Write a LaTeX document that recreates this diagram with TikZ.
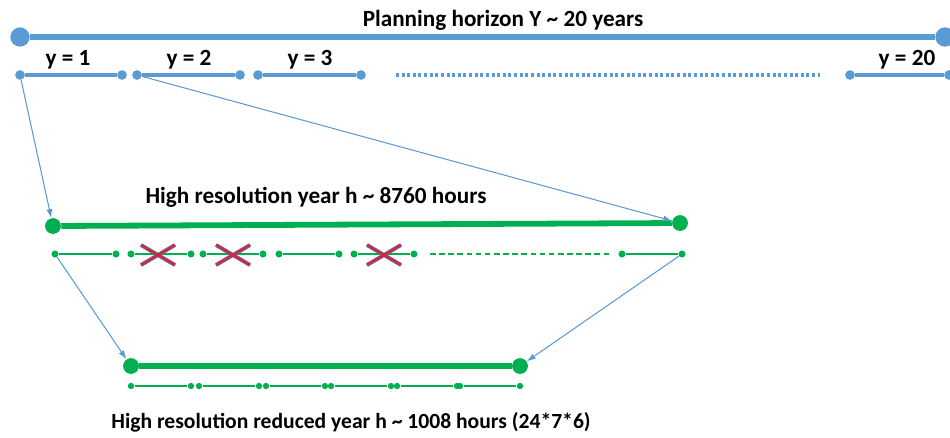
\documentclass[tikz,border=0pt]{standalone}
\usepackage{fontspec}
\setmainfont{Carlito}
\usetikzlibrary{arrows.meta}

\definecolor{yearblue}{RGB}{91,155,213}
\definecolor{hourgreen}{RGB}{0,176,80}
\definecolor{crossred}{RGB}{214,36,60}
\definecolor{crossshade}{RGB}{110,100,150}

\begin{document}
\begin{tikzpicture}[x=0.02cm, y=-0.02cm, >={Latex[length=5pt,width=3.5pt]}]

% Styles
\tikzstyle{bigdot}   = [circle, fill=yearblue, inner sep=0pt, minimum size=11pt]
\tikzstyle{yeardot}  = [circle, fill=yearblue, inner sep=0pt, minimum size=5.5pt]
\tikzstyle{hbigdot}  = [circle, fill=hourgreen, inner sep=0pt, minimum size=9pt]
\tikzstyle{hdot}     = [circle, fill=hourgreen, inner sep=0pt, minimum size=4pt]
\tikzstyle{rdot}     = [circle, fill=hourgreen, inner sep=0pt, minimum size=3.6pt]
\tikzstyle{label}    = [font=\fontsize{13.2}{16}\selectfont\bfseries]
\tikzstyle{link}     = [->, draw=yearblue, line width=0.6pt]
\tikzstyle{yearline} = [draw=yearblue, line width=1.9pt]
\tikzstyle{hourline} = [draw=hourgreen, line width=1.1pt]

\useasboundingbox (0,0) rectangle (950,437);

% Planning horizon
\node [bigdot] (Y0) at (20,37) {};
\node [bigdot] (Y1) at (945,37) {};
\draw [draw=yearblue, line width=3.6pt] (Y0) -- (Y1);
\node [label] (horizon) at (503,20) {Planning horizon Y \textasciitilde{} 20 years};

% Years
\node [yeardot] (y1a) at (20,75) {};
\node [yeardot] (y1b) at (122,75) {};
\node [yeardot] (y2a) at (137,75) {};
\node [yeardot] (y2b) at (240,75) {};
\node [yeardot] (y3a) at (258,75) {};
\node [yeardot] (y3b) at (361,75) {};
\node [yeardot] (y20a) at (850,75) {};
\node [yeardot] (y20b) at (949,75) {};
\coordinate (dotsa) at (396,75);
\coordinate (dotsb) at (820,75);

\draw [yearline] (y1a) -- (y1b);
\draw [yearline] (y2a) -- (y2b);
\draw [yearline] (y3a) -- (y3b);
\draw [yearline] (y20a) -- (y20b);
\draw [draw=yearblue, line width=2pt, dash pattern=on 1.7pt off 1.5pt] (dotsa) -- (dotsb);

\node [label] (ly1) at (68,60) {y = 1};
\node [label] (ly2) at (189,60) {y = 2};
\node [label] (ly3) at (310,60) {y = 3};
\node [label] (ly20) at (907,60) {y = 20};

% High resolution year
\node [hbigdot] (H0) at (53,226) {};
\node [hbigdot] (H1) at (680,223) {};
\draw [draw=hourgreen, line width=3.3pt] (H0) -- (H1);
\node [label] (hres) at (316,197) {High resolution year h \textasciitilde{} 8760 hours};

% Hour blocks
\foreach \i/\a/\b in {1/55/116, 2/131/191, 3/203/263, 4/279/339, 5/354/414, 6/622/682} {
  \node [hdot] (s\i a) at (\a,254) {};
  \node [hdot] (s\i b) at (\b,254) {};
  \draw [hourline] (s\i a) -- (s\i b);
}
\coordinate (hdasha) at (430,254);
\coordinate (hdashb) at (610,254);
\draw [hourline, dash pattern=on 3.2pt off 2pt] (hdasha) -- (hdashb);

% Removed blocks
\foreach \c in {158, 233, 384} {
  \draw [crossshade, line width=2.2pt] (\c-17,245) -- (\c+17,265) (\c-17,265) -- (\c+17,245);
  \draw [crossred, line width=1.1pt] (\c-17,245) -- (\c+17,265) (\c-17,265) -- (\c+17,245);
}

% Reduced year
\node [hbigdot] (R0) at (131,366) {};
\node [hbigdot] (R1) at (520,366) {};
\draw [draw=hourgreen, line width=3.3pt] (R0) -- (R1);

\foreach \i/\a/\b in {1/131/191, 2/199/259, 3/266/325, 4/331/391, 5/397/457, 6/460/520} {
  \node [rdot] (r\i a) at (\a,386) {};
  \node [rdot] (r\i b) at (\b,386) {};
  \draw [hourline] (r\i a) -- (r\i b);
}
\node [label, font=\fontsize{12.3}{15}\selectfont\bfseries] (hred) at (351,422) {High resolution reduced year h \textasciitilde{} 1008 hours (24*7*6)};

% Links
\draw [link] (y1a) -- (H0);
\draw [link] (y2a) -- (H1);
\draw [link] (s1a) -- (R0);
\draw [link] (s6b) -- (R1);

\end{tikzpicture}
\end{document}
